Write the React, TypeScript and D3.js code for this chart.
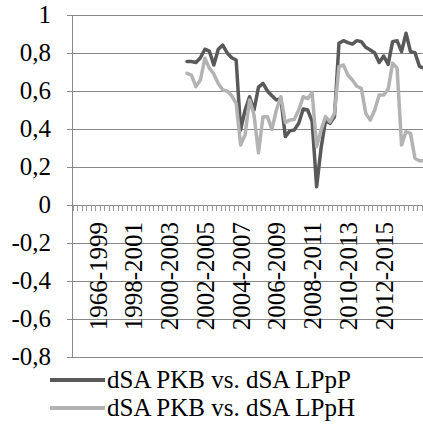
import { useMemo } from 'react';
import * as d3 from 'd3';

// rolling-window periods, one label every 8 quarters
const periodLabels = [
    '1966-1999', '1998-2001', '2000-2003', '2002-2005', '2004-2007',
    '2006-2009', '2008-2011', '2010-2013', '2012-2015',
];
const categoryCount = 80;
const labelStart = 5;
const labelStep = 8;
const firstDataIndex = 25;

const yTickValues = [1, 0.8, 0.6, 0.4, 0.2, 0, -0.2, -0.4, -0.6, -0.8];

const seriesNames = ['dSA PKB vs. dSA LPpP', 'dSA PKB vs. dSA LPpH'];

const lppP = [
    0.755, 0.755, 0.75, 0.775, 0.82, 0.81, 0.737, 0.82, 0.842, 0.8,
    0.775, 0.763, 0.395, 0.5, 0.57, 0.5, 0.62, 0.64, 0.6, 0.575,
    0.553, 0.56, 0.36, 0.39, 0.395, 0.43, 0.505, 0.5, 0.44, 0.096,
    0.3, 0.445, 0.43, 0.465, 0.851, 0.865, 0.855, 0.847, 0.865, 0.86,
    0.83, 0.816, 0.8, 0.75, 0.784, 0.74, 0.86, 0.865, 0.807, 0.904,
    0.807, 0.802, 0.73, 0.72,
];

const lppH = [
    0.693, 0.684, 0.623, 0.658, 0.772, 0.72, 0.69, 0.64, 0.605, 0.6,
    0.575, 0.535, 0.316, 0.37, 0.553, 0.474, 0.275, 0.465, 0.465, 0.398,
    0.5, 0.57, 0.433, 0.447, 0.45, 0.5, 0.57, 0.56, 0.59, 0.307,
    0.395, 0.465, 0.438, 0.482, 0.728, 0.737, 0.684, 0.658, 0.625, 0.614,
    0.482, 0.447, 0.5, 0.579, 0.579, 0.61, 0.746, 0.72, 0.316, 0.386,
    0.377, 0.246, 0.233, 0.233,
];

const colors = ['#595959', '#b3b3b3'];

const width = 423;
const height = 440;
const marginLeft = 73;
const marginTop = 15;
const plotBottom = 357;
const step = 4.47;

const fmt = (v: number) => (Number.isInteger(v) ? String(v) : v.toFixed(1).replace('.', ','));

export default function App() {
    const { x, y, paths } = useMemo(() => {
        const x = d3.scaleBand<number>()
            .domain(d3.range(categoryCount))
            .range([marginLeft, marginLeft + categoryCount * step])
            .padding(0);

        const y = d3.scaleLinear()
            .domain([-0.8, 1])
            .range([plotBottom, marginTop]);

        const line = d3.line<number>()
            .x((_, i) => (x(firstDataIndex + i) as number) + x.bandwidth() / 2)
            .y((d) => y(d));

        return { x, y, paths: [line(lppP) || '', line(lppH) || ''] };
    }, []);

    const xRight = x.range()[1];
    const bw = x.bandwidth();

    return (
        <svg width={width} height={height} style={{ position: 'absolute', left: 0, top: 0, fontFamily: 'Tinos' }}>
            {/* gridlines */}
            <g>
                {yTickValues.map((t) => (
                    <line key={t} x1={marginLeft} x2={xRight} y1={Math.round(y(t)) + 0.5} y2={Math.round(y(t)) + 0.5} stroke="#888" strokeWidth={1} />
                ))}
            </g>
            {/* y axis */}
            <line x1={marginLeft - 0.5} x2={marginLeft - 0.5} y1={y(1)} y2={y(-0.8) + 0.5} stroke="#888" strokeWidth={1} />
            {yTickValues.map((t) => (
                <g key={t}>
                    <line x1={marginLeft - 6} x2={marginLeft} y1={Math.round(y(t)) + 0.5} y2={Math.round(y(t)) + 0.5} stroke="#888" />
                    <text x={51} y={y(t) + 8} textAnchor="end" fontSize={25} style={{ fontFamily: 'Tinos' }}>{fmt(t)}</text>
                </g>
            ))}
            {/* x axis minor ticks */}
            <g>
                {d3.range(categoryCount + 1).map((i) => {
                    const xx = Math.round(marginLeft + i * bw) + 0.5;
                    return <line key={i} x1={xx} x2={xx} y1={y(0)} y2={y(0) + 6} stroke="#999" strokeWidth={1} />;
                })}
            </g>
            {/* category labels */}
            <g>
                {periodLabels.map((lab, k) => {
                    const idx = labelStart + k * labelStep;
                    const cx = (x(idx) as number) + bw / 2 + 9;
                    const ty = y(0) + 17;
                    return (
                        <text key={lab} transform={`translate(${cx},${ty}) rotate(-90)`} textAnchor="end" fontSize={25} style={{ fontFamily: 'Tinos' }}>{lab}</text>
                    );
                })}
            </g>
            {/* series */}
            {paths.map((d, i) => (
                <path key={i} d={d} fill="none" stroke={colors[i]} strokeWidth={3.5} strokeLinejoin="round" strokeLinecap="round" />
            ))}
            {/* legend */}
            {seriesNames.map((name, i) => {
                const ly = 380 + i * 28;
                return (
                    <g key={name}>
                        <line x1={50} x2={105} y1={ly} y2={ly} stroke={colors[i]} strokeWidth={4} />
                        <text x={107} y={ly + 8} fontSize={25} style={{ fontFamily: 'Tinos' }}>{name}</text>
                    </g>
                );
            })}
        </svg>
    );
}
